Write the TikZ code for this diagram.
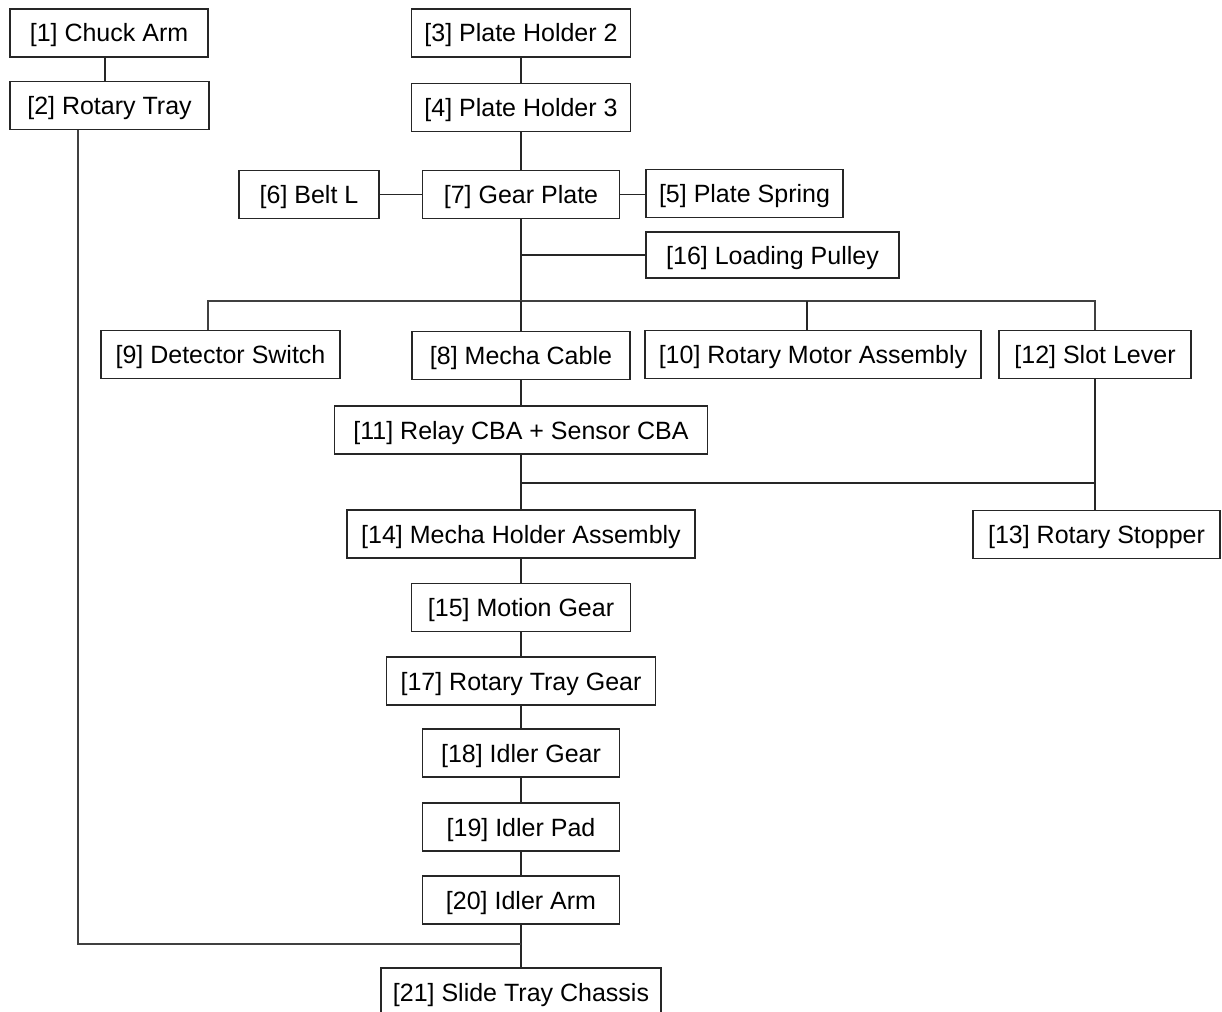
\documentclass[tikz,border=0pt]{standalone}
\usepackage{fontspec}
\setmainfont{Liberation Sans}
\usetikzlibrary{positioning}
\tikzset{
    partbox/.style = {rectangle, draw=black!85, line width=1.3pt, inner sep=0pt, minimum height=48pt, text height=18pt, text depth=0pt, fill=white, font=\fontsize{25}{30}\selectfont},
    link/.style = {draw=black!85, line width=1.3pt},
    bus/.style = {draw=black!75, line width=1.6pt}
}
\begin{document}
\begin{tikzpicture}[x=1pt, y=-1pt]
  \useasboundingbox[fill=white] (0,0) rectangle (1222,1011);

  % top rows
  \node[partbox, minimum width=198pt] (c1) at (109,33) {[1] Chuck Arm};
  \node[partbox, minimum width=199pt] (c2) at (109.5,105.5) {[2] Rotary Tray};
  \node[partbox, minimum width=219pt] (c3) at (521,33) {[3] Plate Holder 2};
  \node[partbox, minimum width=219pt] (c4) at (521,107.5) {[4] Plate Holder 3};
  \node[partbox, minimum width=140pt] (c6) at (309,194.5) {[6] Belt L};
  \node[partbox, minimum width=197pt] (c7) at (521,194.5) {[7] Gear Plate};
  \node[partbox, minimum width=197pt] (c5) at (744.5,193.5) {[5] Plate Spring};
  \node[partbox, minimum width=253pt, minimum height=46pt] (c16) at (772.5,255) {[16] Loading Pulley};

  % middle rows
  \node[partbox, minimum width=239pt] (c9) at (220.5,354.5) {[9] Detector Switch};
  \node[partbox, minimum width=218pt] (c8) at (521,355.5) {[8] Mecha Cable};
  \node[partbox, minimum width=336pt] (c10) at (813,354.5) {[10] Rotary Motor Assembly};
  \node[partbox, minimum width=192pt] (c12) at (1095,354.5) {[12] Slot Lever};
  \node[partbox, minimum width=373pt] (c11) at (521,430) {[11] Relay CBA + Sensor CBA};
  \node[partbox, minimum width=348pt] (c14) at (521,534) {[14] Mecha Holder Assembly};
  \node[partbox, minimum width=247pt] (c13) at (1096.5,534.5) {[13] Rotary Stopper};

  % lower chain
  \node[partbox, minimum width=219pt] (c15) at (521,607.5) {[15] Motion Gear};
  \node[partbox, minimum width=269pt] (c17) at (521,681) {[17] Rotary Tray Gear};
  \node[partbox, minimum width=197pt] (c18) at (521,753) {[18] Idler Gear};
  \node[partbox, minimum width=197pt] (c19) at (521,827) {[19] Idler Pad};
  \node[partbox, minimum width=197pt] (c20) at (521,900) {[20] Idler Arm};
  \node[partbox, minimum width=280pt] (c21) at (521,992) {[21] Slide Tray Chassis};

  \coordinate (j16) at (521,255);
  \coordinate (j1) at (521,301);
  \coordinate (j2) at (521,483);
  \coordinate (j3) at (521,944);

  % connectors
  \draw[link] ([xshift=-4pt]c1.south) -- ([xshift=-4pt]c1.south |- c2.north);
  \draw[link] (c3.south) -- (c4.north);
  \draw[link] (c4.south) -- (c7.north);
  \draw[link] (c6.east) -- (c6.east -| c7.west);
  \draw[link] (c7.east) -- (c7.east -| c5.west);
  \draw[link] (c7.south) -- (j1);
  \draw[link] (j16) -- (j16 -| c16.west);
  \draw[bus] ([xshift=-12.5pt]c9.north) |- (j1) -| (c12.north);
  \draw[link] ([xshift=-6pt]c10.north) -- ([xshift=-6pt]c10.north |- j1);
  \draw[link] (j1) -- (c8.north);
  \draw[link] (c8.south) -- (c11.north);
  \draw[link] (c11.south) -- (c14.north);
  \draw[link] (j2) -- (j2 -| c12.south);
  \draw[link] (c12.south) -- (c12.south |- c13.north);
  \draw[link] (c14.south) -- (c15.north);
  \draw[link] (c15.south) -- (c17.north);
  \draw[link] (c17.south) -- (c18.north);
  \draw[link] (c18.south) -- (c19.north);
  \draw[link] (c19.south) -- (c20.north);
  \draw[link] (c20.south) -- (c21.north);
  \draw[bus] ([xshift=-31.5pt]c2.south) |- (j3);
\end{tikzpicture}
\end{document}
